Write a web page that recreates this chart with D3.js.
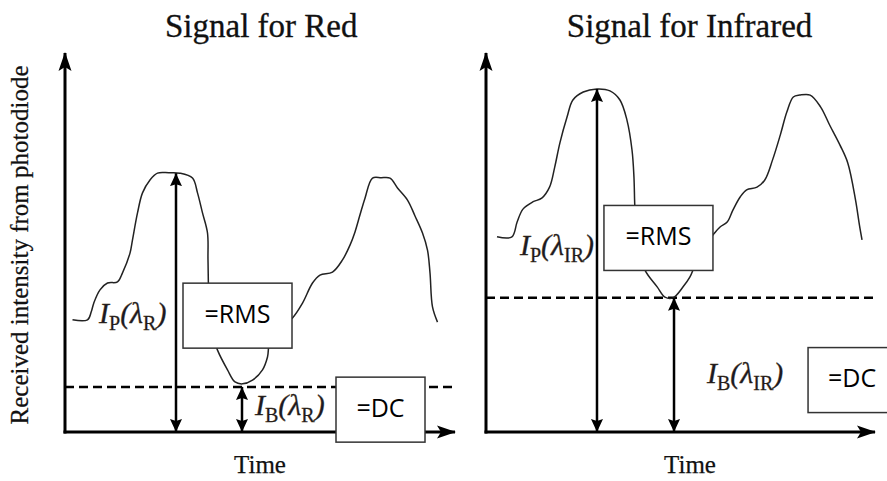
<!DOCTYPE html>
<html>
<head>
<meta charset="utf-8">
<script src="https://cdn.jsdelivr.net/npm/d3@7"></script>
<style>
  body { margin: 0; background: #fff; }
  svg { display: block; }
</style>
</head>
<body>
<div class="graph"></div>
<script>
// red channel: time (s) vs received intensity (a.u.)
const redTime = [0.06, 0.18, 0.21, 0.23, 0.28, 0.34, 0.42, 0.46, 0.52, 0.54, 0.58, 0.62, 0.68, 0.74, 0.83, 0.92,
    1.02, 1.06, 1.10, 1.14, 1.144, 1.152, 1.18, 1.22, 1.30, 1.36, 1.42, 1.50, 1.58, 1.62, 1.64, 1.72, 1.82, 1.90,
    1.98, 2.04, 2.14, 2.22, 2.28, 2.32, 2.36, 2.40, 2.46, 2.53, 2.60, 2.66, 2.74, 2.80, 2.86, 2.90, 2.92, 2.94, 2.98];
const redIntensity = [2.96, 2.96, 3.17, 3.40, 3.75, 3.93, 3.96, 4.20, 4.72, 5.07, 5.78, 6.31, 6.65, 6.83, 6.84, 6.83,
    6.70, 6.31, 5.78, 5.25, 4.54, 3.48, 2.56, 2.16, 1.64, 1.32, 1.27, 1.37, 1.64, 1.98, 2.43, 2.74, 3.01, 3.40,
    3.93, 4.14, 4.22, 4.54, 4.93, 5.28, 5.73, 6.17, 6.70, 6.71, 6.70, 6.44, 6.12, 5.70, 5.25, 4.80, 4.20, 3.30, 2.90];

// infrared channel
const irTime = [0.085, 0.20, 0.24, 0.285, 0.36, 0.43, 0.49, 0.53, 0.57, 0.625, 0.67, 0.75, 0.856, 0.956, 1.033,
    1.087, 1.126, 1.141, 1.149, 1.172, 1.226, 1.32, 1.38, 1.442, 1.52, 1.573, 1.596, 1.65, 1.75, 1.805, 1.86, 1.905,
    1.96, 2.01, 2.09, 2.15, 2.21, 2.27, 2.32, 2.37, 2.42, 2.50, 2.58, 2.65, 2.73, 2.79, 2.85, 2.88, 2.90];
const irIntensity = [5.15, 5.15, 5.54, 5.88, 6.07, 6.17, 6.46, 6.99, 7.63, 8.31, 8.76, 8.97, 9.05, 9.00, 8.76,
    8.23, 7.44, 6.73, 5.86, 4.93, 4.27, 3.83, 3.56, 3.54, 3.83, 4.09, 4.27, 4.80, 5.20, 5.41, 5.54, 5.86,
    6.20, 6.39, 6.46, 6.65, 7.18, 7.84, 8.44, 8.84, 8.89, 8.89, 8.58, 8.10, 7.57, 7.10, 6.12, 5.46, 5.07];

const titles = ["Signal for Red", "Signal for Infrared"];
const waveSub = ["R", "IR"];
const peakTime = [0.888, 0.856];
const peakLevel = [6.83, 9.05];
const dcTime = [1.416, 1.45];
const dcLevel = [1.19, 3.54];
const dashEnd = [3.1, 3.0];
const axisEnd = [3.12, 3.0];
// annotation anchors, in [time, intensity]
const ipLabelAt = [[0.272, 2.88], [0.262, 4.67]];
const ibLabelAt = [[1.52, 0.45], [1.704, 1.29]];
const rmsBoxAt = [[1.38, 3.07], [1.33, 5.12]];
const dcBoxAt = [[2.524, 0.59], [2.823, 1.37]];
const boxText = ["=RMS", "=DC"];

const w = 887;
const h = 481;

const layout = [
    { x0: 65, x1: 440 },
    { x0: 486, x1: 875 }
];
const yTop = 53;
const yBottom = 432;

const serif = "'Liberation Serif', 'Times New Roman', serif";
const sans = "'Open Sans', 'Noto Sans', sans-serif";

const svg = d3.select(".graph")
    .append("svg")
    .attr("width", w)
    .attr("height", h);

const defs = svg.append("defs");

defs.append("marker")
    .attr("id", "axisHead")
    .attr("markerUnits", "userSpaceOnUse")
    .attr("viewBox", "0 -7 20 14")
    .attr("refX", 18)
    .attr("refY", 0)
    .attr("markerWidth", 20)
    .attr("markerHeight", 14)
    .attr("orient", "auto")
    .append("path")
    .attr("d", "M0,-6.5L19,0L0,6.5L4,0Z")
    .attr("fill", "#000");

defs.append("marker")
    .attr("id", "head")
    .attr("markerUnits", "userSpaceOnUse")
    .attr("viewBox", "0 -7 14 14")
    .attr("refX", 13)
    .attr("refY", 0)
    .attr("markerWidth", 14)
    .attr("markerHeight", 14)
    .attr("orient", "auto-start-reverse")
    .append("path")
    .attr("d", "M0,-6L13,0L0,6L2,0Z")
    .attr("fill", "#000");

const series = [
    d3.zip(redTime, redIntensity),
    d3.zip(irTime, irIntensity)
];

series.forEach((data, i) => {
    const xScale = d3.scaleLinear()
        .domain([0, 3])
        .range([layout[i].x0, layout[i].x1]);

    const yScale = d3.scaleLinear()
        .domain([0, 10])
        .range([yBottom, yTop]);

    const g = svg.append("g").attr("class", "panel" + i);

    // title
    g.append("text")
        .text(titles[i])
        .attr("x", xScale(1.57))
        .attr("y", 37)
        .attr("text-anchor", "middle")
        .attr("font-family", serif)
        .attr("font-size", "33px")
        .attr("fill", "#111")
        .attr("stroke", "#111")
        .attr("stroke-width", 0.3);

    // x label
    g.append("text")
        .text("Time")
        .attr("x", i == 0 ? 260 : 690)
        .attr("y", 473)
        .attr("text-anchor", "middle")
        .attr("font-family", serif)
        .attr("font-size", "25px")
        .attr("fill", "#111")
        .attr("stroke", "#111")
        .attr("stroke-width", 0.25);

    // dashed DC level
    g.append("line")
        .attr("x1", xScale(0))
        .attr("x2", xScale(dashEnd[i]))
        .attr("y1", yScale(dcLevel[i]))
        .attr("y2", yScale(dcLevel[i]))
        .style("stroke", "#000")
        .style("stroke-width", "2.5px")
        .style("stroke-dasharray", "9,5");

    // signal
    g.append("path")
        .datum(data)
        .attr("fill", "none")
        .attr("stroke", "#222")
        .attr("stroke-width", 1.5)
        .attr("d", d3.line()
            .x(d => xScale(d[0]))
            .y(d => yScale(d[1]))
            .curve(d3.curveCatmullRom.alpha(0.5)));

    // peak arrow
    g.append("line")
        .attr("x1", xScale(peakTime[i]))
        .attr("x2", xScale(peakTime[i]))
        .attr("y1", yScale(0))
        .attr("y2", yScale(peakLevel[i]))
        .attr("stroke", "#000")
        .attr("stroke-width", 2.5)
        .attr("marker-start", "url(#head)")
        .attr("marker-end", "url(#head)");

    // dc arrow
    g.append("line")
        .attr("x1", xScale(dcTime[i]))
        .attr("x2", xScale(dcTime[i]))
        .attr("y1", yScale(0))
        .attr("y2", yScale(dcLevel[i]))
        .attr("stroke", "#000")
        .attr("stroke-width", 2.5)
        .attr("marker-start", "url(#head)")
        .attr("marker-end", "url(#head)");

    // axes
    g.append("line")
        .attr("x1", xScale(0))
        .attr("x2", xScale(0))
        .attr("y1", yScale(0) + 1.5)
        .attr("y2", yScale(10))
        .attr("stroke", "#000")
        .attr("stroke-width", 3)
        .attr("marker-end", "url(#axisHead)");

    g.append("line")
        .attr("x1", xScale(0) - 1.5)
        .attr("x2", xScale(axisEnd[i]))
        .attr("y1", yScale(0))
        .attr("y2", yScale(0))
        .attr("stroke", "#000")
        .attr("stroke-width", 3)
        .attr("marker-end", "url(#axisHead)");

    // boxes
    const boxes = [
        { at: rmsBoxAt[i], text: boxText[0], bw: 109, bh: 65 },
        { at: dcBoxAt[i], text: boxText[1], bw: i == 0 ? 89 : 88, bh: 65 }
    ];
    boxes.forEach(b => {
        const cx = xScale(b.at[0]);
        const cy = yScale(b.at[1]);
        g.append("rect")
            .attr("x", cx - b.bw / 2)
            .attr("y", cy - b.bh / 2)
            .attr("width", b.bw)
            .attr("height", b.bh)
            .attr("fill", "#fff")
            .attr("stroke", "#333")
            .attr("stroke-width", 1.5);
        g.append("text")
            .text(b.text)
            .attr("x", cx)
            .attr("y", cy + 7)
            .attr("text-anchor", "middle")
            .attr("font-family", sans)
            .attr("font-size", "25px")
            .attr("fill", "#000");
    });

    // I_P and I_B labels
    const labels = [
        { at: ipLabelAt[i], sub: "P" },
        { at: ibLabelAt[i], sub: "B" }
    ];
    labels.forEach(l => {
        const t = g.append("text")
            .attr("x", xScale(l.at[0]))
            .attr("y", yScale(l.at[1]))
            .attr("font-family", serif)
            .attr("font-size", "30px")
            .attr("fill", "#1c1a24")
            .attr("stroke", "#3a2a10")
            .attr("stroke-width", 0.3);
        t.append("tspan").attr("font-style", "italic").text("I");
        t.append("tspan").attr("font-size", "20px").attr("dy", 7).text(l.sub);
        t.append("tspan").attr("font-style", "italic").attr("dy", -7).text("(λ");
        t.append("tspan").attr("font-size", "20px").attr("dy", 7).text(waveSub[i]);
        t.append("tspan").attr("font-style", "italic").attr("dy", -7).text(")");
    });
});

// shared y label
svg.append("text")
    .text("Received intensity from photodiode")
    .attr("transform", "translate(28,245) rotate(-90)")
    .attr("text-anchor", "middle")
    .attr("font-family", serif)
    .attr("font-size", "25px")
    .attr("fill", "#111")
    .attr("stroke", "#111")
    .attr("stroke-width", 0.25);
</script>
</body>
</html>
